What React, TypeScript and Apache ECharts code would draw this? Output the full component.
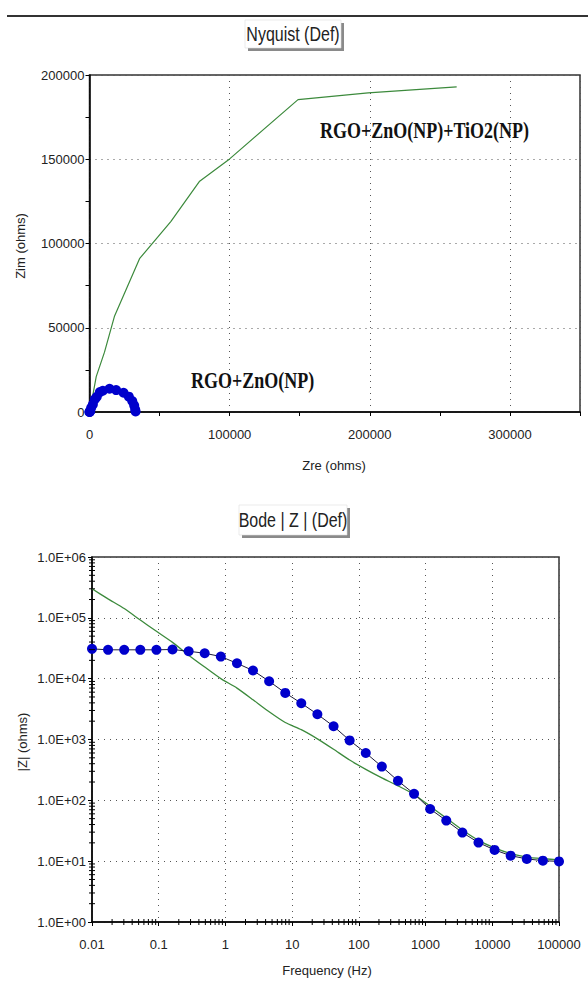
import React, { useEffect, useRef } from 'react';
import * as echarts from 'echarts';

// ---- Nyquist data (ohms) ----
const nyqGreenZre = [10, 1500, 4800, 10700, 17900, 35700, 58000, 78600, 100000, 148800, 198800, 262000];
const nyqGreenZim = [0, 6000, 21000, 35500, 57000, 91000, 113000, 137000, 150200, 185400, 189400, 193000];
const nyqBlueZre = [10, 60, 200, 500, 1200, 2400, 3800, 5200, 7400, 9500, 14300, 19000, 24300, 28100, 30500, 31900, 32600, 32900];
const nyqBlueZim = [0, 40, 200, 600, 2500, 4500, 7500, 9000, 11800, 12600, 13800, 13000, 11400, 9100, 6500, 3900, 1500, 300];

// ---- Bode data ----
const freq = [0.01, 0.0174, 0.0304, 0.053, 0.0924, 0.161, 0.281, 0.489, 0.853, 1.49, 2.59, 4.52, 7.88, 13.7, 23.9, 41.8, 72.8, 127, 221, 386, 672, 1172, 2043, 3562, 6210, 10830, 18870, 32900, 57360, 100000];
const zBlue = [30900, 29800, 29800, 29800, 29800, 30200, 28200, 26200, 23100, 17900, 13600, 9060, 5840, 3950, 2600, 1650, 965, 600, 359, 209, 128, 72, 46.5, 29.5, 20.2, 15.3, 12.3, 10.9, 10.2, 9.9];
const zGreen = [300000, 205000, 142000, 92000, 60000, 39500, 24300, 15500, 10000, 7000, 4500, 2850, 1900, 1450, 1025, 690, 459, 323, 234, 173, 125, 80, 51, 32.5, 22, 16.5, 13.3, 11.7, 11, 10.5];

// ---- labels ----
const nyqTitle = 'Nyquist (Def)';
const bodeTitle = 'Bode | Z | (Def)';
const labelTop = 'RGO+ZnO(NP)+TiO2(NP)';
const labelLow = 'RGO+ZnO(NP)';

const FONT = "'Liberation Sans', Arial, sans-serif";
const SERIF = "'Liberation Serif', 'Times New Roman', serif";

function minorLogTicks(e0: number, e1: number): number[] {
  const out: number[] = [];
  for (let e = e0; e < e1; e++) for (let m = 2; m <= 9; m++) out.push(m * Math.pow(10, e));
  return out;
}

function fmtFreq(v: number) {
  const e = Math.round(Math.log10(v));
  return e < 0 ? Math.pow(10, e).toFixed(-e) : String(Math.round(Math.pow(10, e)));
}
function fmtZ(v: number) {
  const e = Math.round(Math.log10(v));
  return '1.0E+' + (e < 10 ? '0' + e : String(e));
}

function titleBox(cx: number, cy: number, w: number, h: number, text: string) {
  const x0 = cx - w / 2, y0 = cy - h / 2;
  return [
    { type: 'rect', shape: { x: x0 + 3, y: y0 + 3, width: w, height: h }, style: { fill: '#8a8a8a' }, z: 10 },
    { type: 'rect', shape: { x: x0, y: y0, width: w, height: h }, style: { fill: '#fff', stroke: '#ddd', lineWidth: 0.6 }, z: 11 },
    { type: 'text', x: cx, y: cy, scaleY: 1.3, style: { text, fill: '#222', font: `16px ${FONT}`, textAlign: 'center', textVerticalAlign: 'middle' }, z: 12 },
  ];
}

const tickRender = (dir: 'x' | 'y') => (params: any, api: any) => {
  const p = api.coord([api.value(0), api.value(1)]);
  if (dir === 'x') return { type: 'line', shape: { x1: p[0], y1: p[1] - 3, x2: p[0], y2: p[1] + 3 }, style: { stroke: '#000', lineWidth: 1 } };
  return { type: 'line', shape: { x1: p[0] - 3, y1: p[1], x2: p[0] + 3, y2: p[1] }, style: { stroke: '#000', lineWidth: 1 } };
};

export default function App() {
  const ref = useRef<HTMLDivElement>(null);
  useEffect(() => {
    const chart = echarts.init(ref.current!, null, { renderer: 'svg' });
    const grid = { color: '#555', type: [1, 5] as any, width: 1 };
    const option: any = {
      animation: false,
      backgroundColor: '#fff',
      grid: [
        { left: 89.5, top: 75, width: 490.5, height: 337, show: true, borderColor: '#333', borderWidth: 1.5 },
        { left: 92, top: 557, width: 467, height: 365, show: true, borderColor: '#333', borderWidth: 1.5 },
      ],
      xAxis: [
        {
          gridIndex: 0, type: 'value', min: 0, max: 350000, interval: 100000,
          axisLine: { show: true, onZero: false, lineStyle: { color: '#000', width: 1.5 } },
          axisTick: { show: true, length: 4, lineStyle: { color: '#000' } },
          minorTick: { show: true, splitNumber: 2, length: 4, lineStyle: { color: '#000' } },
          axisLabel: { margin: 16, color: '#222', fontSize: 13, fontFamily: FONT, showMaxLabel: false, formatter: (v: number) => String(v) },
          splitLine: { show: true, lineStyle: grid },
        },
        {
          gridIndex: 1, type: 'log', logBase: 10, min: 0.01, max: 100000, splitNumber: 7,
          axisLine: { show: true, onZero: false, lineStyle: { color: '#000', width: 1.5 } },
          axisTick: { show: true, length: 4, inside: false, lineStyle: { color: '#000' } },
          axisLabel: { margin: 16, color: '#222', fontSize: 13, fontFamily: FONT, formatter: fmtFreq },
          splitLine: { show: true, lineStyle: grid },
        },
      ],
      yAxis: [
        {
          gridIndex: 0, type: 'value', min: 0, max: 200000, interval: 50000,
          axisLine: { show: true, onZero: false, lineStyle: { color: '#000', width: 1.5 } },
          axisTick: { show: true, length: 4, lineStyle: { color: '#000' } },
          minorTick: { show: true, splitNumber: 2, length: 4, lineStyle: { color: '#000' } },
          axisLabel: { margin: 5, color: '#222', fontSize: 13, fontFamily: FONT, formatter: (v: number) => String(v) },
          splitLine: { show: true, lineStyle: grid },
        },
        {
          gridIndex: 1, type: 'log', logBase: 10, min: 1, max: 1000000, splitNumber: 6,
          axisLine: { show: true, onZero: false, lineStyle: { color: '#000', width: 1.5 } },
          axisTick: { show: true, length: 4, lineStyle: { color: '#000' } },
          axisLabel: { margin: 6, color: '#222', fontSize: 13, fontFamily: FONT, formatter: fmtZ },
          splitLine: { show: true, lineStyle: grid },
        },
      ],
      series: [
        {
          type: 'line', xAxisIndex: 0, yAxisIndex: 0, name: labelTop,
          data: nyqGreenZre.map((x, i) => [x, nyqGreenZim[i]]),
          showSymbol: false, lineStyle: { color: '#3c8a3c', width: 1.2 }, z: 3,
        },
        {
          type: 'line', xAxisIndex: 0, yAxisIndex: 0, name: labelLow,
          data: nyqBlueZre.map((x, i) => [x, nyqBlueZim[i]]),
          symbol: 'circle', symbolSize: 10, itemStyle: { color: '#0000cc' },
          lineStyle: { color: '#0000cc', width: 1 }, z: 4,
        },
        {
          type: 'line', xAxisIndex: 1, yAxisIndex: 1, name: labelTop + ' |Z|',
          data: freq.map((f, i) => [f, zGreen[i]]),
          showSymbol: false, smooth: 0.2, lineStyle: { color: '#3c8a3c', width: 1.3 }, z: 3,
        },
        {
          type: 'line', xAxisIndex: 1, yAxisIndex: 1, name: labelLow + ' |Z|',
          data: freq.map((f, i) => [f, zBlue[i]]),
          symbol: 'circle', symbolSize: 10, itemStyle: { color: '#0000cc' },
          lineStyle: { color: '#1b1b3a', width: 1 }, z: 4,
        },
        {
          type: 'custom', xAxisIndex: 1, yAxisIndex: 1, silent: true, clip: false, z: 6,
          data: minorLogTicks(-2, 5).map((v) => [v, 1]),
          renderItem: tickRender('x'),
        },
        {
          type: 'custom', xAxisIndex: 1, yAxisIndex: 1, silent: true, clip: false, z: 6,
          data: minorLogTicks(0, 6).map((v) => [0.01, v]),
          renderItem: tickRender('y'),
        },
      ],
      graphic: [
        { type: 'line', shape: { x1: 7, y1: 16, x2: 588, y2: 16 }, style: { stroke: '#333', lineWidth: 2 } },
        ...titleBox(293, 34, 96, 28, nyqTitle),
        ...titleBox(293, 520, 108, 30, bodeTitle),
        { type: 'text', x: 334, y: 465, style: { text: 'Zre (ohms)', fill: '#222', font: `13px ${FONT}`, textAlign: 'center', textVerticalAlign: 'middle' } },
        { type: 'text', x: 327, y: 970, style: { text: 'Frequency (Hz)', fill: '#222', font: `13px ${FONT}`, textAlign: 'center', textVerticalAlign: 'middle' } },
        { type: 'text', x: 20, y: 246, rotation: Math.PI / 2, style: { text: 'Zim (ohms)', fill: '#222', font: `13px ${FONT}`, textAlign: 'center', textVerticalAlign: 'middle' } },
        { type: 'text', x: 22, y: 742, rotation: Math.PI / 2, style: { text: '|Z| (ohms)', fill: '#222', font: `13px ${FONT}`, textAlign: 'center', textVerticalAlign: 'middle' } },
        { type: 'text', x: 320, y: 130, scaleY: 1.3, style: { text: labelTop, fill: '#111', font: `bold 18px ${SERIF}`, textAlign: 'left', textVerticalAlign: 'middle' }, z: 20 },
        { type: 'text', x: 191, y: 380, scaleY: 1.3, style: { text: labelLow, fill: '#111', font: `bold 18px ${SERIF}`, textAlign: 'left', textVerticalAlign: 'middle' }, z: 20 },
      ],
    };
    chart.setOption(option);
    return () => chart.dispose();
  }, []);
  return <div ref={ref} style={{ position: 'fixed', left: 0, top: 0, width: 588, height: 987, background: '#fff' }} />;
}
